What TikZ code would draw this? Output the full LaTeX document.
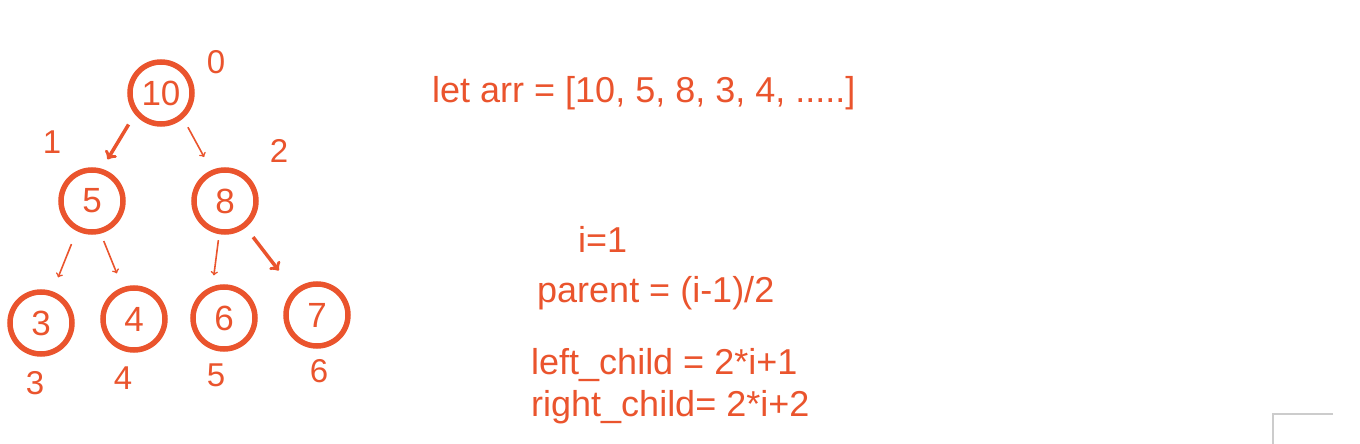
\documentclass[tikz,border=0pt]{standalone}
\usepackage{fontspec}
\setmainfont{Liberation Sans}
\definecolor{heaporange}{RGB}{234,84,45}
\begin{document}
\begin{tikzpicture}[x=1pt,y=-1pt,
		every node/.style={text=heaporange,inner sep=0pt,font=\fontsize{35}{40}\selectfont},
		key/.style={circle,draw=heaporange,line width=5.5pt,minimum size=62pt},
		idx/.style={font=\fontsize{33}{38}\selectfont},
		line/.style={anchor=base west,font=\fontsize{36}{42}\selectfont},
		link/.style={->,draw=heaporange,line width=1.6pt},
		boldlink/.style={link,line width=3.5pt}]
	\useasboundingbox (0,0) rectangle (1360,444);
	\node[key] (n10) at (161,93) {10};
	\node[key] (n5) at (92,201) {5};
	\node[key] (n8) at (225,201) {8};
	\node[key] (n3) at (41,323) {3};
	\node[key] (n4) at (134,319) {4};
	\node[key] (n6) at (224,318) {6};
	\node[key] (n7) at (317,315) {7};
	\node[idx] (i0) at (216,62) {0};
	\node[idx] (i1) at (52,142) {1};
	\node[idx] (i2) at (279,151) {2};
	\node[idx] (i3) at (35,383) {3};
	\node[idx] (i4) at (123,378) {4};
	\node[idx] (i5) at (216,375) {5};
	\node[idx] (i6) at (319,371) {6};
	\draw[boldlink,shorten <=12pt,shorten >=11pt] (n10.219) -- (n5.73);
	\draw[link,shorten <=10pt,shorten >=15pt] (n10.311) -- (n8.114);
	\draw[link,shorten <=14pt,shorten >=15pt] (n5.243) -- (n3.70);
	\draw[link,shorten <=8pt,shorten >=15pt] (n5.285) -- (n4.110);
	\draw[link,shorten <=6pt,shorten >=11pt] (n8.260) -- (n6.110);
	\draw[boldlink,shorten <=12pt,shorten >=25pt] (n8.308) -- (n7.133);
	\node[line] (arr) at (432,102) {let arr = [10, 5, 8, 3, 4, .....]};
	\node[line] (ival) at (578,252) {i=1};
	\node[line] (parent) at (537,302) {parent = (i-1)/2};
	\node[line] (left) at (531,374) {left\_child = 2*i+1};
	\node[line] (right) at (531,416) {right\_child= 2*i+2};
	\draw[black!20,line width=2.5pt] (1333,414) -- (1273,414) -- (1273,444);
\end{tikzpicture}
\end{document}
